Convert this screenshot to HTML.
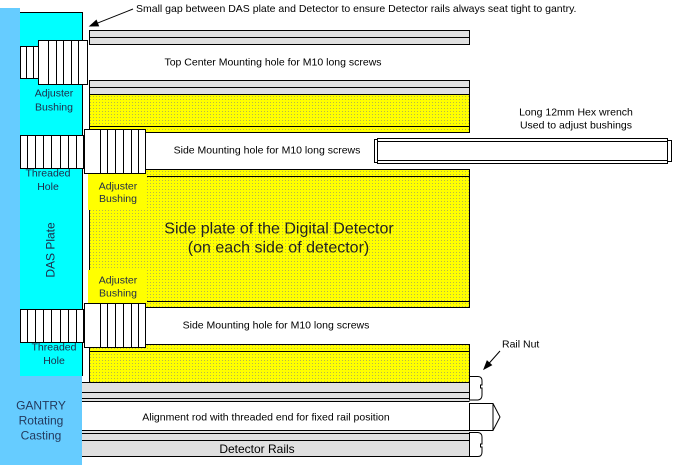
<!DOCTYPE html>
<html>
<head>
<meta charset="utf-8">
<style>
html,body{margin:0;padding:0;background:#fff;}
body{width:674px;height:466px;overflow:hidden;}
svg{display:block;}
</style>
</head>
<body>
<svg width="674" height="466" viewBox="0 0 674 466" xmlns="http://www.w3.org/2000/svg" font-family="'Liberation Sans', Arial, sans-serif">
<defs>
<pattern id="d" width="3" height="3" patternUnits="userSpaceOnUse">
<rect width="3" height="3" fill="#ffff00"/>
<rect width="1" height="1" fill="#b8b848"/>
</pattern>
</defs>

<!-- gantry / DAS plate -->
<g shape-rendering="crispEdges">
<rect x="0" y="8" width="20" height="368" fill="#66ccff"/>
<rect x="0" y="376" width="82" height="89" fill="#66ccff"/>
<rect x="20" y="12" width="62" height="364" fill="#00ffff"/>
<path d="M20,12.5 H82.5 V376" stroke="#000" fill="none"/>
</g>

<!-- detector plates -->
<g shape-rendering="crispEdges" stroke="#000" stroke-width="1">
<rect x="89.5" y="30.5" width="380" height="14" fill="#e0e0e0"/>
<line x1="89.5" y1="37.5" x2="469.5" y2="37.5"/>
<rect x="89.5" y="80.5" width="380" height="14" fill="#e0e0e0"/>
<line x1="89.5" y1="87.5" x2="469.5" y2="87.5"/>
<rect x="89.5" y="94.5" width="380" height="38" fill="url(#d)"/>
<line x1="89.5" y1="126.5" x2="469.5" y2="126.5"/>

<rect x="89.5" y="169.5" width="380" height="138" fill="url(#d)"/>
<line x1="89.5" y1="176.5" x2="469.5" y2="176.5"/>
<line x1="89.5" y1="301.5" x2="469.5" y2="301.5"/>

<rect x="89.5" y="344.5" width="380" height="38" fill="url(#d)"/>
<line x1="89.5" y1="351.5" x2="469.5" y2="351.5"/>
</g>

<!-- rails -->
<g shape-rendering="crispEdges" stroke="#000" stroke-width="1">
<rect x="82" y="382" width="388" height="75" fill="#e0e0e0" stroke="none"/>
<rect x="82" y="401.5" width="388" height="29" fill="#fff" stroke="none"/>
<line x1="82" y1="382.5" x2="469.5" y2="382.5"/>
<line x1="82" y1="392.5" x2="469.5" y2="392.5"/>
<line x1="82" y1="398.5" x2="469.5" y2="398.5"/>
<line x1="82" y1="401.5" x2="469.5" y2="401.5"/>
<line x1="82" y1="430.5" x2="469.5" y2="430.5"/>
<line x1="82" y1="433.5" x2="469.5" y2="433.5"/>
<line x1="82" y1="440.5" x2="469.5" y2="440.5"/>
<line x1="82" y1="456.5" x2="469.5" y2="456.5"/>
</g>

<!-- yellow adjuster bushing boxes -->
<g shape-rendering="crispEdges">
<rect x="88" y="173" width="59" height="37" fill="#ffff00"/>
<rect x="88" y="270" width="59" height="33" fill="#ffff00"/>
</g>

<!-- bushings / threaded holes -->
<g shape-rendering="crispEdges" stroke="#000" stroke-width="1" fill="#fff">
<rect x="20.5" y="46.5" width="18" height="32"/>
<line x1="26.5" y1="46.5" x2="26.5" y2="78.5"/>
<line x1="33.5" y1="46.5" x2="33.5" y2="78.5"/>
<rect x="38.5" y="40.5" width="49" height="44"/>
<line x1="48.5" y1="40.5" x2="48.5" y2="84.5"/>
<line x1="56.5" y1="40.5" x2="56.5" y2="84.5"/>
<line x1="63.5" y1="40.5" x2="63.5" y2="84.5"/>
<line x1="71.5" y1="40.5" x2="71.5" y2="84.5"/>
<line x1="78.5" y1="40.5" x2="78.5" y2="84.5"/>

<rect x="20.5" y="135.5" width="63" height="33"/>
<line x1="27.5" y1="135.5" x2="27.5" y2="168.5"/>
<line x1="35.5" y1="135.5" x2="35.5" y2="168.5"/>
<line x1="43.5" y1="135.5" x2="43.5" y2="168.5"/>
<line x1="51.5" y1="135.5" x2="51.5" y2="168.5"/>
<line x1="60.5" y1="135.5" x2="60.5" y2="168.5"/>
<line x1="68.5" y1="135.5" x2="68.5" y2="168.5"/>
<line x1="76.5" y1="135.5" x2="76.5" y2="168.5"/>
<rect x="84.5" y="129.5" width="61" height="44"/>
<line x1="100.5" y1="129.5" x2="100.5" y2="173.5"/>
<line x1="107.5" y1="129.5" x2="107.5" y2="173.5"/>
<line x1="115.5" y1="129.5" x2="115.5" y2="173.5"/>
<line x1="123.5" y1="129.5" x2="123.5" y2="173.5"/>
<line x1="131.5" y1="129.5" x2="131.5" y2="173.5"/>
<line x1="138.5" y1="129.5" x2="138.5" y2="173.5"/>

<rect x="20.5" y="309.5" width="63" height="33"/>
<line x1="27.5" y1="309.5" x2="27.5" y2="342.5"/>
<line x1="35.5" y1="309.5" x2="35.5" y2="342.5"/>
<line x1="43.5" y1="309.5" x2="43.5" y2="342.5"/>
<line x1="51.5" y1="309.5" x2="51.5" y2="342.5"/>
<line x1="60.5" y1="309.5" x2="60.5" y2="342.5"/>
<line x1="68.5" y1="309.5" x2="68.5" y2="342.5"/>
<line x1="76.5" y1="309.5" x2="76.5" y2="342.5"/>
<rect x="84.5" y="303.5" width="61" height="44"/>
<line x1="100.5" y1="303.5" x2="100.5" y2="347.5"/>
<line x1="107.5" y1="303.5" x2="107.5" y2="347.5"/>
<line x1="115.5" y1="303.5" x2="115.5" y2="347.5"/>
<line x1="123.5" y1="303.5" x2="123.5" y2="347.5"/>
<line x1="131.5" y1="303.5" x2="131.5" y2="347.5"/>
<line x1="138.5" y1="303.5" x2="138.5" y2="347.5"/>
</g>

<!-- hex wrench -->
<g shape-rendering="crispEdges" stroke="#000" stroke-width="1" fill="#fff">
<rect x="374.5" y="139.5" width="3" height="23"/>
<rect x="377.5" y="138.5" width="290" height="25"/>
<line x1="377.5" y1="141.5" x2="667.5" y2="141.5"/>
<line x1="377.5" y1="160.5" x2="667.5" y2="160.5"/>
<rect x="667.5" y="140.5" width="4" height="21"/>
</g>

<!-- rail nut and rod end -->
<g stroke="#000" stroke-width="1" fill="#fff">
<path d="M469.5,376.5 H478 Q482,376.5 482,381 V385 H480.5 V388 H482 V395 Q482,399.5 478,400 H469.5 Z"/>
<path d="M469.5,432.5 H478 Q482,433 482,437 V444 H480.5 V447 H482 V452 Q482,456.5 478,456.5 H469.5 Z"/>
<path d="M469.5,403.5 H493 L500,417 L493,430.5 H469.5 Z"/>
<line x1="493" y1="403.5" x2="493" y2="430.5"/>
</g>

<!-- arrows -->
<g stroke="#000" stroke-width="1" fill="#000">
<line x1="133" y1="9" x2="96" y2="23.7"/>
<polygon points="90,26 98.5,25.9 96.3,20.3"/>
<line x1="500" y1="351" x2="488" y2="364.5"/>
<polygon points="484,369 491.5,365 487.1,361"/>
</g>

<!-- text -->
<g font-size="10.5" fill="#000">
<text x="136" y="12">Small gap between DAS plate and Detector to ensure Detector rails always seat tight to gantry.</text>
<text x="273" y="65.5" text-anchor="middle">Top Center Mounting hole for M10 long screws</text>
<text x="267" y="153.5" text-anchor="middle">Side Mounting hole for M10 long screws</text>
<text x="276" y="328.5" text-anchor="middle">Side Mounting hole for M10 long screws</text>
<text x="576" y="115.5" text-anchor="middle">Long 12mm Hex wrench</text>
<text x="576" y="128.5" text-anchor="middle">Used to adjust bushings</text>
<text x="502" y="347.5">Rail Nut</text>
<text x="266" y="420.5" text-anchor="middle">Alignment rod with threaded end for fixed rail position</text>
</g>
<text x="257" y="453" font-size="12" text-anchor="middle" fill="#000">Detector Rails</text>

<g font-size="16" fill="#222" text-anchor="middle">
<text x="279" y="233.5">Side plate of the Digital Detector</text>
<text x="278.5" y="252.5">(on each side of detector)</text>
</g>

<g font-size="10.5" fill="#1e2a48" text-anchor="middle">
<text x="54" y="96.5">Adjuster</text>
<text x="54" y="110.5">Bushing</text>
<text x="48" y="176.5">Threaded</text>
<text x="48" y="190">Hole</text>
<text x="54" y="350.5">Threaded</text>
<text x="54" y="364">Hole</text>
<text x="118" y="189.5">Adjuster</text>
<text x="118" y="202">Bushing</text>
<text x="118" y="283.5">Adjuster</text>
<text x="118" y="296.5">Bushing</text>
</g>

<text x="0" y="0" font-size="12" fill="#1e2a48" text-anchor="middle" transform="translate(54.3,250) rotate(-90)">DAS Plate</text>

<g font-size="12" fill="#233a5e" text-anchor="middle">
<text x="41" y="409.5">GANTRY</text>
<text x="41" y="424.5">Rotating</text>
<text x="41" y="439.5">Casting</text>
</g>
</svg>
</body>
</html>
